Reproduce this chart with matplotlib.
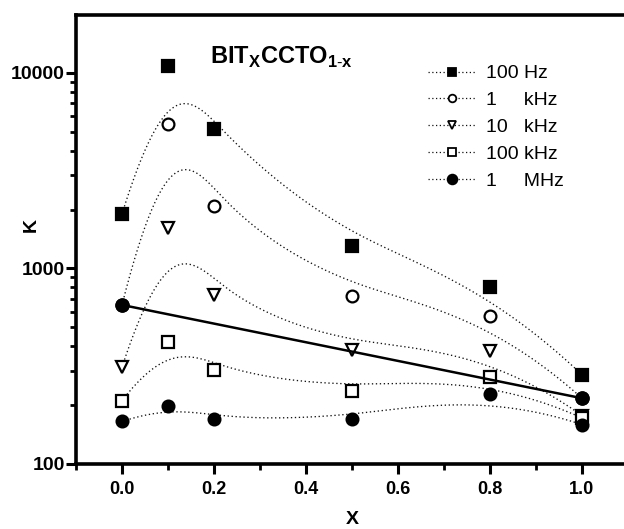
import numpy as np
import matplotlib
matplotlib.use("Agg")
import matplotlib.pyplot as plt
from matplotlib.lines import Line2D
from matplotlib.ticker import FixedLocator, NullFormatter

plt.rcParams['font.family'] = ['Liberation Sans', 'DejaVu Sans']
plt.rcParams['mathtext.fontset'] = 'custom'
plt.rcParams['mathtext.bf'] = 'Liberation Sans:bold'
plt.rcParams['mathtext.rm'] = 'Liberation Sans'

x = [0.0, 0.1, 0.2, 0.5, 0.8, 1.0]
k_100hz = [1900, 10800, 5170, 1300, 800, 286]
k_1khz = [651, 5480, 2096, 727, 572, 217]
k_10khz = [313, 1618, 733, 384, 380, 177]
k_100khz = [211, 423, 303, 236, 280, 172]
k_1mhz = [165, 197, 170, 170, 228, 159]

# end points joined by the solid line
x_ends = [0.0, 1.0]
k_ends = [651, 217]

labels = ['100 Hz', '1     kHz', '10   kHz', '100 kHz', '1     MHz']
series = [k_100hz, k_1khz, k_10khz, k_100khz, k_1mhz]
markers = ['s', 'o', 'v', 's', 'o']
filled = [True, False, False, False, True]


def bspline(px, py, n=300, k=3):
    # clamped uniform B-spline using the points as control points
    px = np.asarray(px, float)
    py = np.asarray(py, float)
    m = len(px)
    knots = np.concatenate([np.zeros(k), np.linspace(0, 1, m - k + 1), np.ones(k)])
    t = np.linspace(0, 1, n)
    t[-1] = 1 - 1e-12
    B = np.zeros((n, len(knots) - 1))
    for i in range(len(knots) - 1):
        B[:, i] = (t >= knots[i]) & (t < knots[i + 1])
    for d in range(1, k + 1):
        Bn = np.zeros((n, len(knots) - 1 - d))
        for i in range(len(knots) - 1 - d):
            a = knots[i + d] - knots[i]
            b = knots[i + d + 1] - knots[i + 1]
            left = (t - knots[i]) / a * B[:, i] if a > 0 else 0
            right = (knots[i + d + 1] - t) / b * B[:, i + 1] if b > 0 else 0
            Bn[:, i] = left + right
        B = Bn
    return B @ px, B @ py


fig = plt.figure(figsize=(6.24, 5.29), dpi=100)
ax = fig.add_axes([76 / 624, 65 / 529, 552 / 624, 449 / 529])
ax.set_yscale('log')

for ys, mk, fl in zip(series, markers, filled):
    cx, cy = bspline(x, np.log10(ys))
    ax.plot(cx, 10 ** cy, color='#111111', lw=0.95, ls=(0, (1, 2)), zorder=1)
    ax.plot(x, ys, ls='none', marker=mk, ms=8.5 if mk != 'v' else 9,
            mfc='black' if fl else 'white', mec='black', mew=1.6, zorder=3)

ax.plot(x_ends, k_ends, color='black', lw=1.8, marker='o', ms=9.5,
        mfc='black', mec='black', zorder=4)

ax.set_xlim(-0.1, 1.1)
ax.set_ylim(100, 19800)
ax.set_xticks([0.0, 0.2, 0.4, 0.6, 0.8, 1.0])
ax.set_xticklabels(['0.0', '0.2', '0.4', '0.6', '0.8', '1.0'])
ax.xaxis.set_minor_locator(FixedLocator([-0.1, 0.1, 0.3, 0.5, 0.7, 0.9, 1.1]))
ax.set_yticks([100, 1000, 10000])
ax.set_yticklabels(['100', '1000', '10000'])
minors = [m * 10 ** e for e in (2, 3, 4) for m in range(2, 10)]
ax.yaxis.set_minor_locator(FixedLocator(minors))
ax.yaxis.set_minor_formatter(NullFormatter())

ax.tick_params(which='major', direction='out', length=7, width=2.2)
ax.tick_params(which='minor', direction='out', length=4, width=2.0)
ax.tick_params(axis='x', labelsize=13, pad=5)
ax.tick_params(axis='y', labelsize=14, pad=1)
for lb in ax.get_xticklabels() + ax.get_yticklabels():
    lb.set_fontweight('bold')
for sp in ax.spines.values():
    sp.set_linewidth(2.6)
ax.spines['right'].set_visible(False)

fig.text(352 / 624, 1 - 520 / 529, 'X', fontsize=14, fontweight='bold',
         ha='center', va='center')
fig.text(31 / 624, 1 - 225 / 529, 'K', fontsize=14, fontweight='bold',
         ha='center', va='center', rotation=90)

ax.text(134 / 552, (464 - 64) / 449, r'BIT$_\mathbf{X}$CCTO$_\mathbf{1\text{-}x}$',
        transform=ax.transAxes, fontsize=17, fontweight='bold', va='baseline', ha='left')

handles = [Line2D([], [], color='#111111', lw=0.9, ls=(0, (1, 2)), marker=mk,
                  ms=7 if (mk == 'o' and fl) else 5.5,
                  mfc='black' if fl else 'white', mec='black', mew=1.3)
           for mk, fl in zip(markers, filled)]
ax.legend(handles, labels, loc='upper left', bbox_to_anchor=(418 / 624, 1 - 55 / 529),
          bbox_transform=fig.transFigure, frameon=False, fontsize=14,
          handlelength=2.5, handletextpad=0.5, labelspacing=0.48, borderpad=0)

fig.savefig('out.png', dpi=100)
